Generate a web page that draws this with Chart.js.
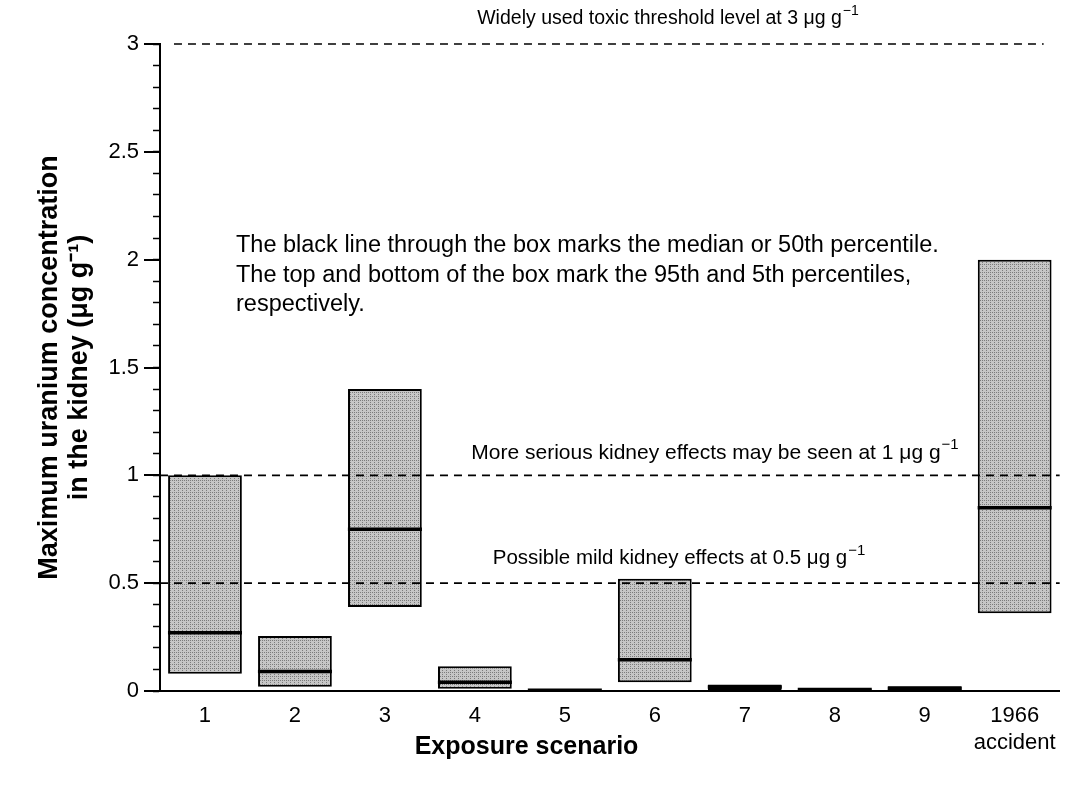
<!DOCTYPE html>
<html>
<head>
<meta charset="utf-8">
<script src="https://cdn.jsdelivr.net/npm/chart.js@4/dist/chart.umd.min.js"></script>
<style>
  html, body { margin: 0; padding: 0; background: #fff; }
  #wrap { width: 1067px; height: 788px; }
</style>
</head>
<body>
<div id="wrap"><canvas id="uraniumChart"></canvas></div>
<script>
// Chart data
const scenarios = ["1", "2", "3", "4", "5", "6", "7", "8", "9", ["1966", "accident"]];
const p5 = [0.08, 0.02, 0.39, 0.01, 0.0, 0.04, 0.005, 0.003, 0.005, 0.36];
const p95 = [1.0, 0.255, 1.4, 0.115, 0.006, 0.52, 0.03, 0.012, 0.022, 2.0];
const medians = [0.27, 0.09, 0.75, 0.04, 0.003, 0.145, 0.018, 0.007, 0.013, 0.85];
const yTicks = [0, 0.5, 1, 1.5, 2, 2.5, 3];

// Reference levels and their captions (caption text + superscript)
const thresholds = [3, 1, 0.5];
const thresholdLabels = [
  "Widely used toxic threshold level at 3 μg g",
  "More serious kidney effects may be seen at 1 μg g",
  "Possible mild kidney effects at 0.5 μg g",
];
const noteLines = [
  "The black line through the box marks the median or 50th percentile.",
  "The top and bottom of the box mark the 95th and 5th percentiles,",
  "respectively.",
];
const xTitle = "Exposure scenario";

const FONT = "'Liberation Sans', Arial, Helvetica, sans-serif";
Chart.defaults.font.family = FONT;
Chart.defaults.color = "#000";

// Stipple-like gray fill for the boxes
function makePattern() {
  const c = document.createElement("canvas");
  c.width = 4;
  c.height = 4;
  const g = c.getContext("2d");
  g.fillStyle = "#c6c6c6";
  g.fillRect(0, 0, 4, 4);
  g.fillStyle = "#7c7c7c";
  g.fillRect(0, 0, 1, 1);
  g.fillRect(2, 2, 1, 1);
  g.fillRect(2, 0, 1, 1);
  return g.createPattern(c, "repeat");
}

// text with a "−1" superscript, centred on cx
function drawSupLabel(ctx, base, cx, cy, size) {
  ctx.font = size + "px " + FONT;
  const w1 = ctx.measureText(base).width;
  ctx.font = Math.round(size * 0.72) + "px " + FONT;
  const w2 = ctx.measureText("−1").width;
  const x0 = cx - (w1 + w2 + 1) / 2;
  ctx.textAlign = "left";
  ctx.font = size + "px " + FONT;
  ctx.fillText(base, x0, cy);
  ctx.font = Math.round(size * 0.72) + "px " + FONT;
  ctx.fillText("−1", x0 + w1 + 1, cy - size * 0.38);
}

// Dashed threshold lines, their captions, major ticks, note and x title
const overlayPlugin = {
  id: "overlay",
  afterDatasetsDraw(chart) {
    const ctx = chart.ctx;
    const area = chart.chartArea;
    const y = chart.scales.y;
    ctx.save();

    // major ticks on the y axis
    ctx.strokeStyle = "#000";
    ctx.lineWidth = 2;
    yTicks.forEach((v) => {
      const py = Math.round(y.getPixelForValue(v));
      ctx.beginPath();
      ctx.moveTo(area.left - 16, py);
      ctx.lineTo(area.left, py);
      ctx.stroke();
    });

    // dashed lines
    ctx.lineWidth = 1.6;
    ctx.setLineDash([8, 6]);
    thresholds.forEach((v, i) => {
      const py = y.getPixelForValue(v);
      ctx.beginPath();
      ctx.moveTo(i === 0 ? area.left + 14 : area.left, py);
      ctx.lineTo(i === 0 ? area.right - 16 : area.right, py);
      ctx.stroke();
    });
    ctx.setLineDash([]);

    // captions
    ctx.fillStyle = "#000";
    ctx.textBaseline = "middle";
    drawSupLabel(ctx, thresholdLabels[0], area.left + 508, y.getPixelForValue(3) - 25, 19.5);
    drawSupLabel(ctx, thresholdLabels[1], area.left + 555, y.getPixelForValue(1) - 22, 21);
    drawSupLabel(ctx, thresholdLabels[2], area.left + 519, y.getPixelForValue(0.5) - 25, 20.5);

    // note
    ctx.textAlign = "left";
    ctx.font = "23.5px " + FONT;
    noteLines.forEach((t, i) => {
      ctx.fillText(t, area.left + 76, area.top + 202 + i * 29.5);
    });

    // x axis title, centred on the figure
    ctx.textAlign = "center";
    ctx.font = "bold 25px " + FONT;
    ctx.fillText(xTitle, chart.width / 2 - 7, chart.height - 41);
    ctx.restore();
  },
};

const ctx = document.getElementById("uraniumChart").getContext("2d");
new Chart(ctx, {
  type: "bar",
  data: {
    labels: scenarios,
    datasets: [
      {
        type: "line",
        label: "Median",
        data: medians,
        showLine: false,
        pointStyle: "line",
        pointRadius: 37,
        pointHoverRadius: 37,
        pointBorderWidth: 3.5,
        borderColor: "#000",
        backgroundColor: "#000",
        order: 0,
      },
      {
        label: "5th-95th percentile",
        data: p5.map((lo, i) => [lo, p95[i]]),
        backgroundColor: makePattern(),
        borderColor: "#000",
        borderWidth: 2,
        borderSkipped: false,
        categoryPercentage: 1,
        barPercentage: 0.82,
        order: 1,
      },
    ],
  },
  options: {
    responsive: true,
    maintainAspectRatio: false,
    animation: false,
    layout: {
      autoPadding: false,
      padding: { top: 44, right: 7, left: 35, bottom: 20 },
    },
    plugins: {
      legend: { display: false },
      tooltip: { enabled: false },
    },
    scales: {
      x: {
        grid: { display: false, drawTicks: false },
        border: { display: true, color: "#000", width: 2 },
        ticks: {
          padding: 11,
          font: { size: 22, lineHeight: 1.25 },
          color: "#000",
          maxRotation: 0,
          autoSkip: false,
        },
      },
      y: {
        min: 0,
        max: 3,
        grid: {
          drawOnChartArea: false,
          drawTicks: true,
          tickLength: 7,
          tickWidth: 1.5,
          tickColor: "#000",
        },
        border: { display: true, color: "#000", width: 2 },
        ticks: {
          stepSize: 0.1,
          autoSkip: false,
          padding: 14,
          font: { size: 22 },
          color: "#000",
          callback: function (value) {
            const r = Math.round(value * 10);
            return r % 5 === 0 ? String(r / 10) : "";
          },
        },
        title: {
          display: true,
          text: ["Maximum uranium concentration", "in the kidney (μg g⁻¹)"],
          font: { size: 27, weight: "bold", lineHeight: 1.1 },
          padding: { top: 0, bottom: 0 },
        },
      },
    },
  },
  plugins: [overlayPlugin],
});
</script>
</body>
</html>
